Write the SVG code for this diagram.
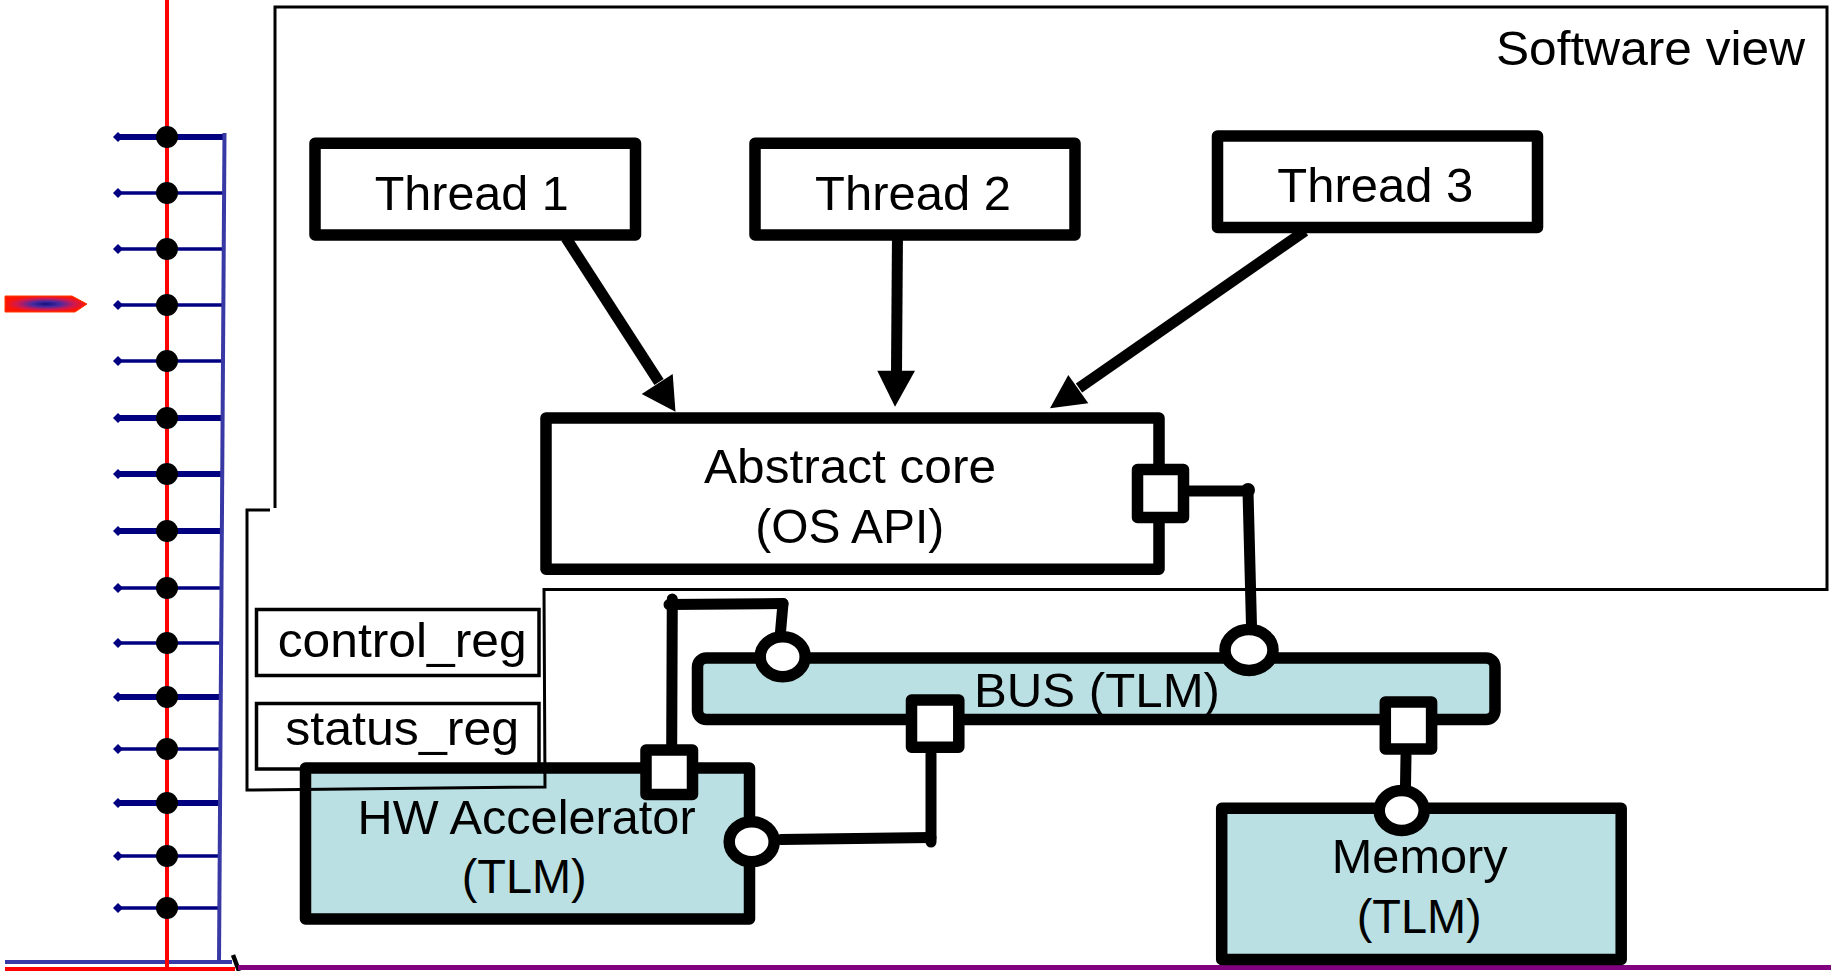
<svg xmlns="http://www.w3.org/2000/svg" width="1831" height="971" viewBox="0 0 1831 971">
  <style>
    .frame{fill:none;stroke:#000;stroke-width:3}
    .box{fill:#fff;stroke:#000;stroke-width:11.5;stroke-linejoin:round}
    .tlm{fill:#bbe0e3}
    .port{fill:#fff;stroke:#000;stroke-width:11.5;stroke-linejoin:round}
    .wire{fill:none;stroke:#000;stroke-width:11;stroke-linecap:round;stroke-linejoin:round}
    .shaft{fill:none;stroke:#000;stroke-width:11}
    .head{fill:#000}
    .lbl{font-family:"Liberation Sans Narrow","Liberation Sans",Arial,Helvetica,sans-serif;font-size:49px;text-anchor:middle;fill:#000}
    .reg{fill:#fff;stroke:#000;stroke-width:3.5}
    .row{stroke:#000080;stroke-width:3.5;marker-start:url(#tip)}
    .thick{stroke-width:6}
    .rail{stroke:#3939a6;stroke-width:4;fill:none}
    .red{stroke:#f00;stroke-width:4}
    .dot{fill:#000}
  </style>
  <defs>
    <marker id="tip" markerUnits="userSpaceOnUse" markerWidth="12" markerHeight="12" viewBox="-6 -6 12 12" refX="0" refY="0" orient="auto">
      <path d="M-5 0 L0 -5 L5 0 L0 5Z" fill="#000080"/>
    </marker>
    <radialGradient id="flame" cx="0.5" cy="0.5" r="0.5">
      <stop offset="0" stop-color="#10107e"/>
      <stop offset="0.35" stop-color="#4a2aa0"/>
      <stop offset="0.7" stop-color="#d01850"/>
      <stop offset="1" stop-color="#ff1400"/>
    </radialGradient>
  </defs>

  <!-- timeline ladder on the left -->
  <g id="timeline">
    <line class="row thick" x1="118" y1="137" x2="224.5" y2="137"/>
    <line class="row" x1="118" y1="193" x2="224.1" y2="193"/>
    <line class="row" x1="118" y1="249" x2="223.7" y2="249"/>
    <line class="row" x1="118" y1="305" x2="223.4" y2="305"/>
    <line class="row" x1="118" y1="361" x2="223" y2="361"/>
    <line class="row thick" x1="118" y1="418" x2="222.6" y2="418"/>
    <line class="row thick" x1="118" y1="474" x2="222.2" y2="474"/>
    <line class="row thick" x1="118" y1="531" x2="221.9" y2="531"/>
    <line class="row" x1="118" y1="588" x2="221.5" y2="588"/>
    <line class="row" x1="118" y1="643" x2="221.1" y2="643"/>
    <line class="row thick" x1="118" y1="697" x2="220.8" y2="697"/>
    <line class="row" x1="118" y1="749" x2="220.4" y2="749"/>
    <line class="row thick" x1="118" y1="803" x2="220.1" y2="803"/>
    <line class="row" x1="118" y1="856" x2="219.7" y2="856"/>
    <line class="row" x1="118" y1="908" x2="219.4" y2="908"/>
    <line class="rail" x1="224.5" y1="133" x2="219" y2="962"/>
    <line class="rail" x1="5" y1="962" x2="232" y2="962"/>
    <line class="red" x1="167" y1="0" x2="167" y2="971"/>
    <line class="red" x1="5" y1="969" x2="235" y2="969"/>
    <circle class="dot" cx="167" cy="137" r="11"/>
    <circle class="dot" cx="167" cy="193" r="11"/>
    <circle class="dot" cx="167" cy="249" r="11"/>
    <circle class="dot" cx="167" cy="305" r="11"/>
    <circle class="dot" cx="167" cy="361" r="11"/>
    <circle class="dot" cx="167" cy="418" r="11"/>
    <circle class="dot" cx="167" cy="474" r="11"/>
    <circle class="dot" cx="167" cy="531" r="11"/>
    <circle class="dot" cx="167" cy="588" r="11"/>
    <circle class="dot" cx="167" cy="643" r="11"/>
    <circle class="dot" cx="167" cy="697" r="11"/>
    <circle class="dot" cx="167" cy="749" r="11"/>
    <circle class="dot" cx="167" cy="803" r="11"/>
    <circle class="dot" cx="167" cy="856" r="11"/>
    <circle class="dot" cx="167" cy="908" r="11"/>
    <line x1="233" y1="955" x2="239" y2="971" stroke="#000" stroke-width="4.5"/>
  </g>

  <!-- current-time pointer -->
  <polygon id="pointer" points="5,296 72,296 87,304 75,312 5,312" fill="url(#flame)" stroke="#ff3a00" stroke-width="1"/>

  <!-- time axis -->
  <line id="axis" x1="238" y1="967.5" x2="1831" y2="967.5" stroke="#800080" stroke-width="5"/>

  <g id="thread1">
    <rect class="box" x="315" y="143.3" width="320.5" height="91.7"/>
    <text class="lbl" x="471.7" y="210" font-size="51" textLength="194" lengthAdjust="spacingAndGlyphs">Thread 1</text>
  </g>
  <g id="thread2">
    <rect class="box" x="755" y="143.3" width="320" height="91.7"/>
    <text class="lbl" x="913" y="210" font-size="51" textLength="196" lengthAdjust="spacingAndGlyphs">Thread 2</text>
  </g>
  <g id="thread3">
    <rect class="box" x="1217.5" y="136" width="320" height="91.5"/>
    <text class="lbl" x="1375.3" y="201.7" font-size="51" textLength="196" lengthAdjust="spacingAndGlyphs">Thread 3</text>
  </g>

  <g id="abstract-core">
    <rect class="box" x="546" y="418" width="613" height="151.3"/>
    <text class="lbl" x="850" y="483.3" textLength="292" lengthAdjust="spacingAndGlyphs">Abstract core</text>
    <text class="lbl" x="849.7" y="543.3" textLength="189" lengthAdjust="spacingAndGlyphs">(OS API)</text>
    <rect class="port" x="1137.5" y="469.5" width="46" height="48"/>
  </g>

  <g id="control-reg">
    <rect class="reg" x="256.5" y="609.5" width="282.5" height="66"/>
    <text class="lbl" x="402.2" y="656.7" textLength="249" lengthAdjust="spacingAndGlyphs">control_reg</text>
  </g>
  <g id="status-reg">
    <rect class="reg" x="256.5" y="703.5" width="282.5" height="65.5"/>
    <text class="lbl" x="402.2" y="745" textLength="234" lengthAdjust="spacingAndGlyphs">status_reg</text>
  </g>

  <g id="bus">
    <rect class="box tlm" x="697.5" y="658" width="797.5" height="61.5" rx="9"/>
    <text class="lbl" x="1097" y="706.7" font-size="47" textLength="246" lengthAdjust="spacingAndGlyphs">BUS (TLM)</text>
    <ellipse class="port" cx="782.7" cy="656.7" rx="22.5" ry="20"/>
    <ellipse class="port" cx="1249" cy="650" rx="24" ry="20.5"/>
    <rect class="port" x="911.5" y="700" width="47.3" height="47.2"/>
    <rect class="port" x="1385.3" y="702" width="46.3" height="47"/>
  </g>

  <g id="hw-accelerator">
    <rect class="box tlm" x="305.5" y="768" width="444" height="151"/>
    <text class="lbl" x="526.6" y="834" textLength="338" lengthAdjust="spacingAndGlyphs">HW Accelerator</text>
    <text class="lbl" x="524.2" y="893.3" textLength="125" lengthAdjust="spacingAndGlyphs">(TLM)</text>
    <rect class="port" x="646" y="750" width="46.5" height="44.5"/>
    <ellipse class="port" cx="751.7" cy="841.7" rx="22.5" ry="20"/>
  </g>

  <g id="memory">
    <rect class="box tlm" x="1221.7" y="808.3" width="399.5" height="151.2"/>
    <text class="lbl" x="1419.7" y="873.3" font-size="48" textLength="176" lengthAdjust="spacingAndGlyphs">Memory</text>
    <text class="lbl" x="1419.2" y="933" font-size="48" textLength="125" lengthAdjust="spacingAndGlyphs">(TLM)</text>
    <ellipse class="port" cx="1401.7" cy="810.5" rx="22.5" ry="20"/>
  </g>

  <!-- software view boundary -->
  <g id="software-view">
    <path class="frame" d="M275,508 V7 H1827 V589.5 H544 L545,787 L247,790 V510 H270"/>
    <text class="lbl" x="1650.5" y="65" font-size="47" textLength="309" lengthAdjust="spacingAndGlyphs">Software view</text>
  </g>

  <g id="connectors">
    <!-- thread calls into the abstract core -->
    <line class="shaft" x1="566" y1="238" x2="659" y2="382"/>
    <polygon class="head" points="641.7,394 672.7,374 675.5,411.7"/>
    <line class="shaft" x1="897.5" y1="232" x2="896.5" y2="372"/>
    <polygon class="head" points="877.3,370.7 915,370.7 895,406.7"/>
    <line class="shaft" x1="1305" y1="231" x2="1079" y2="388"/>
    <polygon class="head" points="1068.3,375 1088.3,403.3 1050,408.3"/>

    <!-- core port to bus -->
    <polyline class="wire" points="1189,491 1248,491 1251.5,626"/>
    <circle cx="1248" cy="490" r="7"/>

    <!-- accelerator target port to bus -->
    <line class="wire" x1="671.7" y1="748" x2="672.3" y2="599"/>
    <line class="wire" x1="669" y1="604.5" x2="783" y2="603.5"/>
    <line class="wire" x1="783" y1="603.5" x2="780.5" y2="632"/>

    <!-- accelerator initiator to bus -->
    <line class="wire" x1="781" y1="839.5" x2="931" y2="837.5"/>
    <line class="wire" x1="931" y1="754" x2="931" y2="842"/>

    <!-- bus to memory -->
    <line class="wire" x1="1406" y1="755.5" x2="1405.5" y2="786"/>
  </g>
</svg>
